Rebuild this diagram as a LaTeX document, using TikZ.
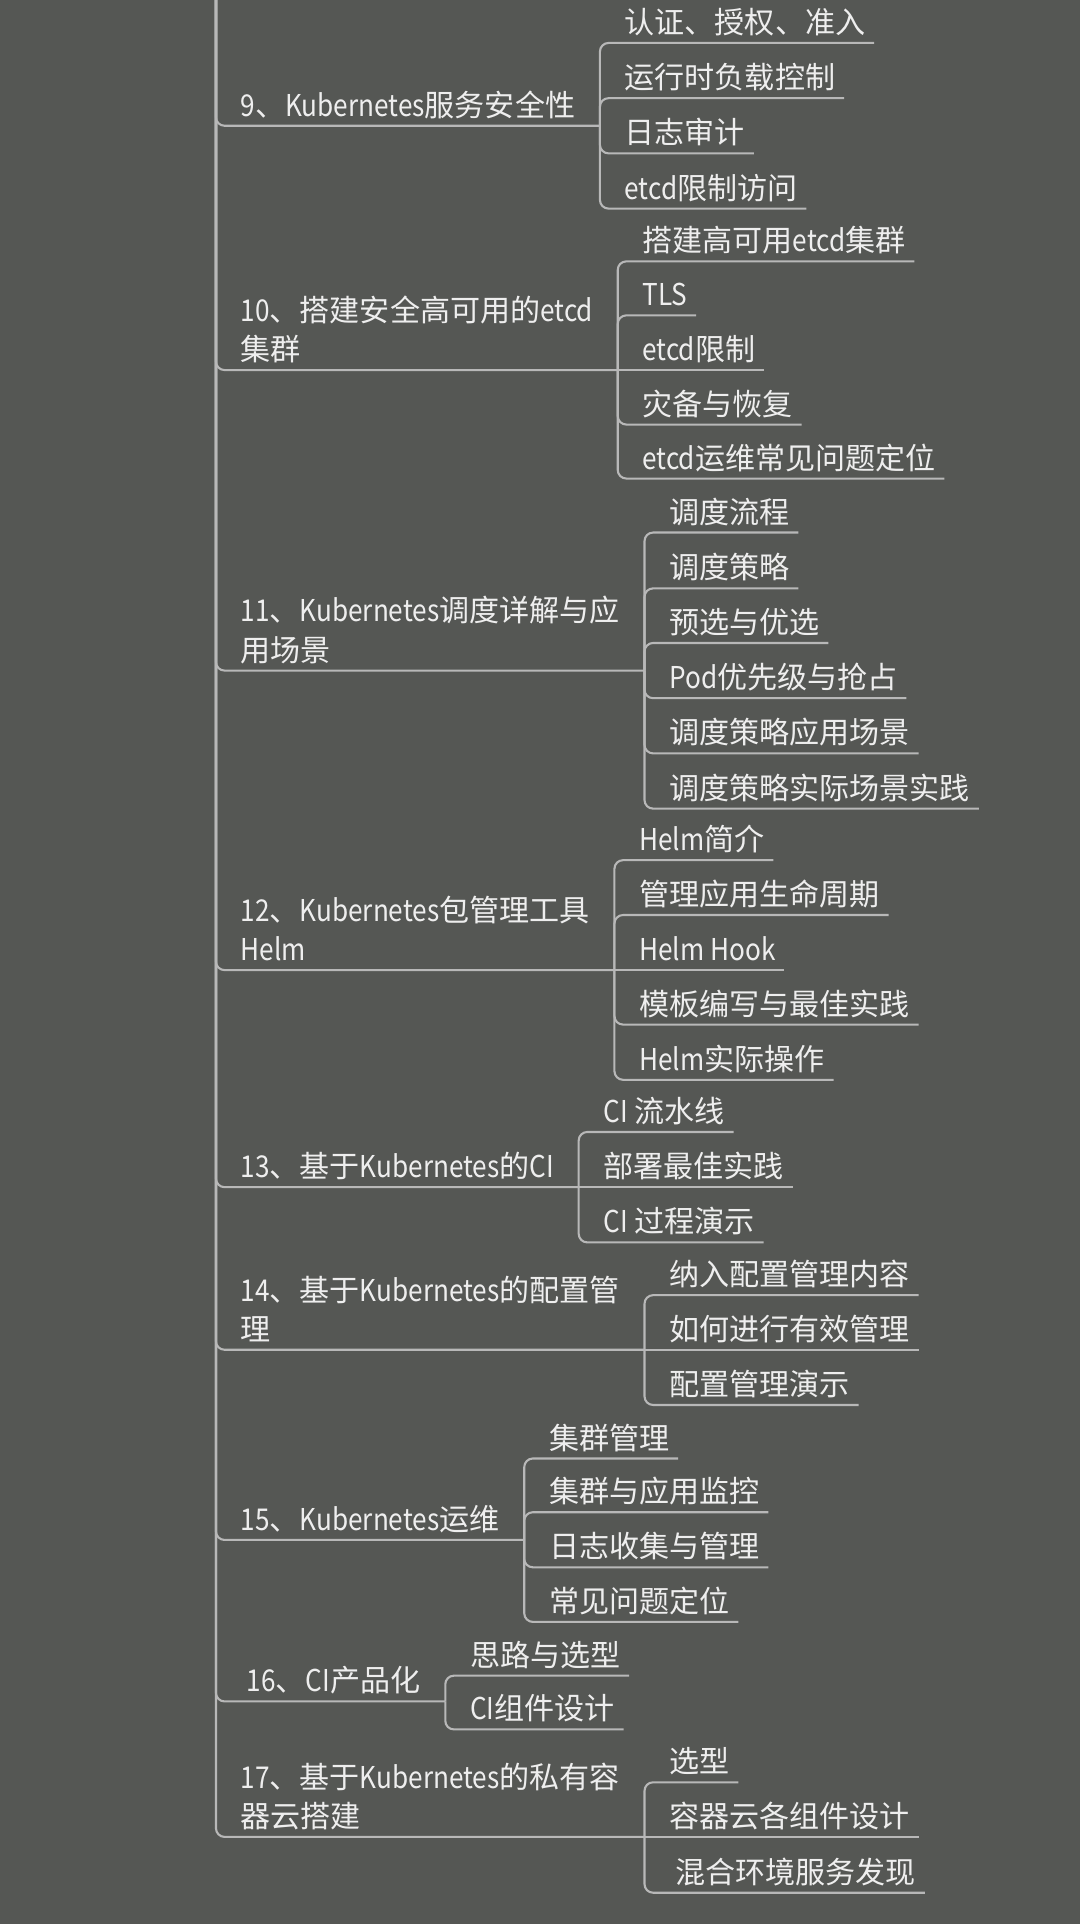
\documentclass[tikz,border=0pt]{standalone}
\usepackage{fontspec}
\setmainfont{Noto Sans CJK SC}
\newfontfamily\ltnfont[FakeStretch=0.87]{Noto Sans CJK SC}
\newcommand{\ltn}[1]{{\ltnfont #1}}
\usepackage{tikz}
\definecolor{bg}{HTML}{555754}
\definecolor{linegray}{HTML}{B8B8B8}
\definecolor{textgray}{HTML}{EEEEEE}
\tikzset{
	link/.style={draw=linegray, line width=1.7pt, rounded corners=7pt},
	topic/.style={anchor=south west, inner xsep=20pt, inner ysep=7.5pt, text depth=0pt,
		text=textgray, font=\fontsize{24.5}{32}\selectfont},
	topictwo/.style={topic, align=left},
	leaf/.style={anchor=south west, inner xsep=7pt, inner ysep=7.5pt, text depth=0pt,
		xshift=13pt, text=textgray, font=\fontsize{24.5}{32}\selectfont},
}
\begin{document}
\begin{tikzpicture}[x=1pt, y=-1pt]
	\useasboundingbox[fill=bg] (0,0) rectangle (880,1568);
	\coordinate (top) at (176,0);
	% 9
	\node[topic] (t9) at (176,102.5) {\ltn{9}、\ltn{Kubernetes}服务安全性};
	\node[leaf] (c9a) at (t9.south east |- 0,35) {认证、授权、准入};
	\node[leaf] (c9b) at (t9.south east |- 0,80) {运行时负载控制};
	\node[leaf] (c9c) at (t9.south east |- 0,125) {日志审计};
	\node[leaf] (c9d) at (t9.south east |- 0,170) {\ltn{etcd}限制访问};
	\draw[link] (top) |- (t9.south east);
	\draw[link] (t9.south east) |- (c9a.south east);
	\draw[link] (t9.south east) |- (c9b.south east);
	\draw[link] (t9.south east) |- (c9c.south east);
	\draw[link] (t9.south east) |- (c9d.south east);
	% 10
	\node[topictwo] (t10) at (176,301.6) {\ltn{10}、搭建安全高可用的\ltn{etcd}\\集群};
	\node[leaf] (c10a) at (t10.south east |- 0,213) {搭建高可用\ltn{etcd}集群};
	\node[leaf] (c10b) at (t10.south east |- 0,257) {\ltn{TLS}};
	\node[leaf] (c10c) at (t10.south east |- 0,301.6) {\ltn{etcd}限制};
	\node[leaf] (c10d) at (t10.south east |- 0,346) {灾备与恢复};
	\node[leaf] (c10e) at (t10.south east |- 0,390) {\ltn{etcd}运维常见问题定位};
	\draw[link] (top) |- (t10.south east);
	\draw[link] (t10.south east) |- (c10a.south east);
	\draw[link] (t10.south east) |- (c10b.south east);
	\draw[link] (t10.south east) -- (c10c.south east);
	\draw[link] (t10.south east) |- (c10d.south east);
	\draw[link] (t10.south east) |- (c10e.south east);
	% 11
	\node[topictwo] (t11) at (176,546.5) {\ltn{11}、\ltn{Kubernetes}调度详解与应\\用场景};
	\node[leaf] (c11a) at (t11.south east |- 0,434) {调度流程};
	\node[leaf] (c11b) at (t11.south east |- 0,479.5) {调度策略};
	\node[leaf] (c11c) at (t11.south east |- 0,524) {预选与优选};
	\node[leaf] (c11d) at (t11.south east |- 0,569) {\ltn{Pod}优先级与抢占};
	\node[leaf] (c11e) at (t11.south east |- 0,614) {调度策略应用场景};
	\node[leaf] (c11f) at (t11.south east |- 0,659) {调度策略实际场景实践};
	\draw[link] (top) |- (t11.south east);
	\draw[link] (t11.south east) |- (c11a.south east);
	\draw[link] (t11.south east) |- (c11b.south east);
	\draw[link] (t11.south east) |- (c11c.south east);
	\draw[link] (t11.south east) |- (c11d.south east);
	\draw[link] (t11.south east) |- (c11e.south east);
	\draw[link] (t11.south east) |- (c11f.south east);
	% 12
	\node[topictwo] (t12) at (176,790.6) {\ltn{12}、\ltn{Kubernetes}包管理工具\\\ltn{Helm}};
	\node[leaf] (c12a) at (t12.south east |- 0,701) {\ltn{Helm}简介};
	\node[leaf] (c12b) at (t12.south east |- 0,745.7) {管理应用生命周期};
	\node[leaf] (c12c) at (t12.south east |- 0,790.6) {\ltn{Helm Hook}};
	\node[leaf] (c12d) at (t12.south east |- 0,835) {模板编写与最佳实践};
	\node[leaf] (c12e) at (t12.south east |- 0,880) {\ltn{Helm}实际操作};
	\draw[link] (top) |- (t12.south east);
	\draw[link] (t12.south east) |- (c12a.south east);
	\draw[link] (t12.south east) |- (c12b.south east);
	\draw[link] (t12.south east) -- (c12c.south east);
	\draw[link] (t12.south east) |- (c12d.south east);
	\draw[link] (t12.south east) |- (c12e.south east);
	% 13
	\node[topic] (t13) at (176,967.5) {\ltn{13}、基于\ltn{Kubernetes}的\ltn{CI}};
	\node[leaf] (c13a) at (t13.south east |- 0,922.5) {\ltn{CI} 流水线};
	\node[leaf] (c13b) at (t13.south east |- 0,967.5) {部署最佳实践};
	\node[leaf] (c13c) at (t13.south east |- 0,1012.5) {\ltn{CI} 过程演示};
	\draw[link] (top) |- (t13.south east);
	\draw[link] (t13.south east) |- (c13a.south east);
	\draw[link] (t13.south east) -- (c13b.south east);
	\draw[link] (t13.south east) |- (c13c.south east);
	% 14
	\node[topictwo] (t14) at (176,1100) {\ltn{14}、基于\ltn{Kubernetes}的配置管\\理};
	\node[leaf] (c14a) at (t14.south east |- 0,1055.5) {纳入配置管理内容};
	\node[leaf] (c14b) at (t14.south east |- 0,1100) {如何进行有效管理};
	\node[leaf] (c14c) at (t14.south east |- 0,1145) {配置管理演示};
	\draw[link] (top) |- (t14.south east);
	\draw[link] (t14.south east) |- (c14a.south east);
	\draw[link] (t14.south east) -- (c14b.south east);
	\draw[link] (t14.south east) |- (c14c.south east);
	% 15
	\node[topic] (t15) at (176,1255) {\ltn{15}、\ltn{Kubernetes}运维};
	\node[leaf] (c15a) at (t15.south east |- 0,1188.6) {集群管理};
	\node[leaf] (c15b) at (t15.south east |- 0,1232.4) {集群与应用监控};
	\node[leaf] (c15c) at (t15.south east |- 0,1277.3) {日志收集与管理};
	\node[leaf] (c15d) at (t15.south east |- 0,1321.8) {常见问题定位};
	\draw[link] (top) |- (t15.south east);
	\draw[link] (t15.south east) |- (c15a.south east);
	\draw[link] (t15.south east) |- (c15b.south east);
	\draw[link] (t15.south east) |- (c15c.south east);
	\draw[link] (t15.south east) |- (c15d.south east);
	% 16
	\node[topic, xshift=5pt] (t16) at (176,1386.6) {\ltn{16}、\ltn{CI}产品化};
	\node[leaf] (c16a) at (t16.south east |- 0,1365.6) {思路与选型};
	\node[leaf] (c16b) at (t16.south east |- 0,1409.4) {\ltn{CI}组件设计};
	\draw[link] (top) |- (t16.south east);
	\draw[link] (t16.south east) |- (c16a.south east);
	\draw[link] (t16.south east) |- (c16b.south east);
	% 17
	\node[topictwo] (t17) at (176,1497) {\ltn{17}、基于\ltn{Kubernetes}的私有容\\器云搭建};
	\node[leaf] (c17a) at (t17.south east |- 0,1452.5) {选型};
	\node[leaf] (c17b) at (t17.south east |- 0,1497) {容器云各组件设计};
	\node[leaf, xshift=5pt] (c17c) at (t17.south east |- 0,1542.5) {混合环境服务发现};
	\draw[link] (top) |- (t17.south east);
	\draw[link] (t17.south east) |- (c17a.south east);
	\draw[link] (t17.south east) -- (c17b.south east);
	\draw[link] (t17.south east) |- (c17c.south east);
\end{tikzpicture}
\end{document}
